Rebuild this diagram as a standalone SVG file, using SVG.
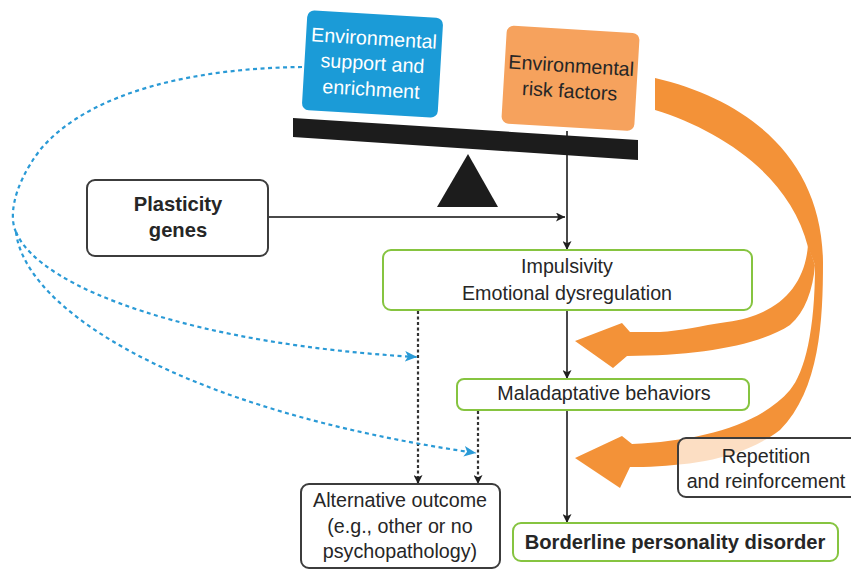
<svg xmlns="http://www.w3.org/2000/svg" width="851" height="569" viewBox="0 0 851 569">
  <defs>
    <style>
      text { font-family: "Liberation Sans", Arial, sans-serif; font-size: 19.7px; fill: #262626; text-anchor: middle; }
      .bold { font-weight: bold; font-size: 20.2px; }
      .white { fill: #ffffff; }
      .gray-box { fill: #ffffff; stroke: #3c3c3c; stroke-width: 2; }
      .green-box { fill: #ffffff; stroke: #86c440; stroke-width: 2; }
      .solid { fill: none; stroke: #4a4a4a; stroke-width: 2; }
      .dotted { fill: none; stroke: #333333; stroke-width: 2.2; stroke-dasharray: 3 2.5; }
      .blue-dash { fill: none; stroke: #2a9ad6; stroke-width: 2.2; stroke-dasharray: 4 3.5; }
      .orange { fill: #f39238; }
    </style>
    <marker id="arrow-dark" viewBox="0 0 10 10" refX="10" refY="5" markerWidth="9" markerHeight="9" markerUnits="userSpaceOnUse" orient="auto">
      <path d="M0,0 L10,5 L0,10 L2.5,5 Z" fill="#1e1e1e"/>
    </marker>
    <marker id="arrow-blue" viewBox="0 0 10 10" refX="10" refY="5" markerWidth="12" markerHeight="12" markerUnits="userSpaceOnUse" orient="auto">
      <path d="M0,0.5 L10,5 L0,9.5 L2.5,5 Z" fill="#2a9ad6"/>
    </marker>
  </defs>

  <rect width="851" height="569" fill="#ffffff"/>

  <!-- orange feedback arcs: main sweep ending in the lower arrow, plus the upper branch -->
  <g id="feedback-arcs">
    <path class="orange" d="M655,78 C750,100 822,160 823,262 C823,320 820,390 780,430 C740,460 690,465 643,467 L630,467 L620,488 L575,458 L622,436 L632,444 C700,441 760,425 790,390 C805,372 815,330 815,265 L808,247 C790,175 720,130 655,110 Z"/>
    <path class="orange" d="M808,245 C805,285 780,315 727,322 C700,326 680,331 660,332 L630,332 L622,323 L575,341 L613,368 L627,356 C700,356 760,345 790,325 C805,312 813,290 815,265 Z"/>
  </g>

  <!-- connectors -->
  <g id="connectors">
    <line class="solid" x1="567" y1="131" x2="567" y2="250" marker-end="url(#arrow-dark)"/>
    <line class="solid" x1="268" y1="217" x2="565" y2="217" marker-end="url(#arrow-dark)"/>
    <line class="solid" x1="567" y1="311" x2="567" y2="379" marker-end="url(#arrow-dark)"/>
    <line class="solid" x1="567" y1="411" x2="567" y2="523" marker-end="url(#arrow-dark)"/>
    <line class="dotted" x1="418" y1="311" x2="418" y2="484" marker-end="url(#arrow-dark)"/>
    <line class="dotted" x1="478" y1="411" x2="478" y2="484" marker-end="url(#arrow-dark)"/>
    <path class="blue-dash" d="M302,67 C200,68 90,90 40,150 C10,190 10,220 16,232"/>
    <path class="blue-dash" d="M16,232 C40,290 200,345 417,357" marker-end="url(#arrow-blue)"/>
    <path class="blue-dash" d="M16,232 C25,310 180,410 476,453" marker-end="url(#arrow-blue)"/>
  </g>

  <!-- seesaw -->
  <g id="seesaw">
    <polygon points="293,118 638,140 638,160 293,137" fill="#1c1c1c"/>
    <polygon points="468,154 498,207 437,207" fill="#1c1c1c"/>
  </g>

  <g id="env-support" transform="translate(372.5,64) rotate(3.4)">
    <rect x="-68" y="-50" width="136" height="100" rx="7" fill="#1b9bd7"/>
    <text class="white" x="0" y="-19">Environmental</text>
    <text class="white" x="0" y="6">support and</text>
    <text class="white" x="0" y="32">enrichment</text>
  </g>

  <g id="env-risk" transform="translate(570.5,78.3) rotate(3.4)">
    <rect x="-66.5" y="-49" width="133" height="98" rx="7" fill="#f6a25d"/>
    <text x="0" y="-6">Environmental</text>
    <text x="0" y="19.5">risk factors</text>
  </g>

  <g id="plasticity-genes">
    <rect class="gray-box" x="87" y="180" width="181" height="76" rx="8"/>
    <text class="bold" x="178" y="211">Plasticity</text>
    <text class="bold" x="178" y="237">genes</text>
  </g>

  <g id="impulsivity">
    <rect class="green-box" x="383" y="250" width="369" height="60" rx="8"/>
    <text x="567" y="273">Impulsivity</text>
    <text x="567" y="300">Emotional dysregulation</text>
  </g>

  <g id="maladaptive">
    <rect class="green-box" x="457" y="379" width="292" height="31" rx="7"/>
    <text x="604" y="400">Maladaptative behaviors</text>
  </g>

  <g id="repetition">
    <rect x="678" y="438" width="185" height="59" rx="8" fill="#ffffff" fill-opacity="0.7" stroke="#3c3c3c" stroke-width="2"/>
    <text x="766" y="463">Repetition</text>
    <text x="766" y="488">and reinforcement</text>
  </g>

  <g id="alternative-outcome">
    <rect class="gray-box" x="301" y="484" width="199" height="84" rx="8"/>
    <text x="400" y="507">Alternative outcome</text>
    <text x="400" y="533">(e.g., other or no</text>
    <text x="400" y="558">psychopathology)</text>
  </g>

  <g id="bpd">
    <rect class="green-box" x="513" y="523" width="325" height="38" rx="8"/>
    <text class="bold" x="675" y="549">Borderline personality disorder</text>
  </g>
</svg>
